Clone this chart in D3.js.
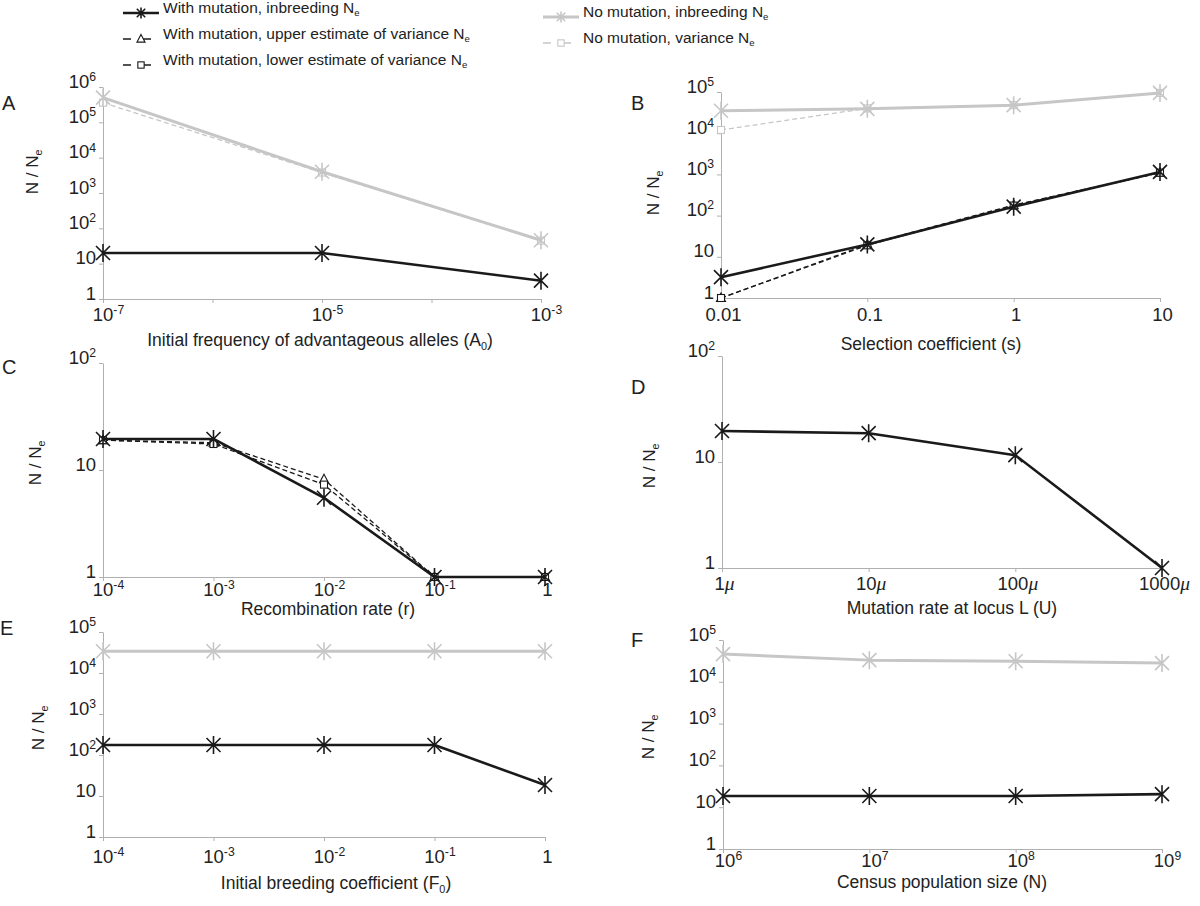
<!DOCTYPE html>
<html><head><meta charset="utf-8">
<script src="https://cdn.jsdelivr.net/npm/d3@7"></script>
<style>
body{margin:0;background:#fff}
svg{display:block}
text{font-family:"Liberation Sans",Arial,Helvetica,sans-serif;fill:#222}
</style>
</head><body>
<svg id="chart" width="1200" height="906"></svg>
<script>
// ---------------- DATA ----------------
// Panel A: initial frequency of advantageous alleles
const xA = [1e-7, 1e-5, 1e-3];
const aNoMutInb = [5e5, 4000, 46];
const aNoMutVar = [3.6e5, 3800, 45];
const aMutInb = [20, 20, 3.3];
const xTicksA = [1e-7, 1e-6, 1e-5, 1e-4, 1e-3];
const xTickLabelsA = ["10^{-7}", "", "10^{-5}", "", "10^{-3}"];

// Panel B: selection coefficient
const xB = [0.01, 0.1, 1, 10];
const bNoMutInb = [35000, 39000, 48000, 95000];
const bNoMutVar = [12000, 40000, 48000, 95000];
const bMutInb = [3.2, 20, 165, 1150];
const bMutUpper = [1, 20, 180, 1100];
const bMutLower = [1, 19, 175, 1100];
const xTickLabelsB = ["0.01", "0.1", "1", "10"];

// Panel C: recombination rate
const xC = [1e-4, 1e-3, 1e-2, 1e-1, 1];
const cMutInb = [19.5, 19.5, 5.5, 1, 1];
const cMutUpper = [19, 18, 8.2, 1, 1];
const cMutLower = [19, 17.5, 7.3, 1, 1];
const xTickLabelsC = ["10^{-4}", "10^{-3}", "10^{-2}", "10^{-1}", "1"];

// Panel D: mutation rate at locus L (multiples of mu)
const xD = [1, 10, 100, 1000];
const dMutInb = [19.6, 18.7, 11.6, 1];
const xTickLabelsD = ["1*{μ}", "10*{μ}", "100*{μ}", "1000*{μ}"];

// Panel E: initial breeding coefficient
const xE = [1e-4, 1e-3, 1e-2, 1e-1, 1];
const eNoMutInb = [34000, 34000, 34000, 34000, 34000];
const eMutInb = [175, 175, 175, 175, 18.5];
const xTickLabelsE = ["10^{-4}", "10^{-3}", "10^{-2}", "10^{-1}", "1"];

// Panel F: census population size
const xF = [1e6, 1e7, 1e8, 1e9];
const fNoMutInb = [46000, 33000, 31000, 28000];
const fMutInb = [18.5, 18.5, 18.5, 20.5];
const xTickLabelsF = ["10^{6}", "10^{7}", "10^{8}", "10^{9}"];

// y ticks
const yTicks6 = [1, 10, 1e2, 1e3, 1e4, 1e5, 1e6];
const yTickLabels6 = ["1", "10", "10^{2}", "10^{3}", "10^{4}", "10^{5}", "10^{6}"];
const yTicks5 = [1, 10, 1e2, 1e3, 1e4, 1e5];
const yTickLabels5 = ["1", "10", "10^{2}", "10^{3}", "10^{4}", "10^{5}"];
const yTicks2 = [1, 10, 1e2];
const yTickLabels2 = ["1", "10", "10^{2}"];

const legendLabels = [
  "With mutation, inbreeding N_{e}",
  "With mutation, upper estimate of variance N_{e}",
  "With mutation, lower estimate of variance N_{e}",
  "No mutation, inbreeding N_{e}",
  "No mutation, variance N_{e}"
];
const yLabel = "N / N_{e}";

// ---------------- STYLE ----------------
const BLACK = "#1a1a1a", GRAY = "#c6c6c6", AXIS = "#b0b0b0";
const TICK_FS = 18.5;
const styles = {
  blackInb:   {stroke: BLACK, width: 2.6, dash: null, marker: "ast", mcolor: BLACK},
  blackUpper: {stroke: BLACK, width: 1.3, dash: "5,3", marker: "tri", mcolor: BLACK},
  blackLower: {stroke: BLACK, width: 1.3, dash: "5,3", marker: "sq", mcolor: BLACK},
  grayInb:    {stroke: GRAY, width: 3, dash: null, marker: "ast", mcolor: GRAY},
  grayVar:    {stroke: GRAY, width: 1.3, dash: "5,3", marker: "sq", mcolor: GRAY}
};

const svg = d3.select("#chart");

function rich(sel, s, base) {
  const parts = s.split(/(\^\{[^}]*\}|_\{[^}]*\}|\*\{[^}]*\})/).filter(p => p !== "");
  let shift = 0;
  parts.forEach(p => {
    const t = sel.append("tspan");
    if (p.startsWith("^{")) {
      const sh = -0.36 * base;
      t.attr("dy", sh - shift).attr("font-size", base * 0.66).text(p.slice(2, -1));
      shift = sh;
    } else if (p.startsWith("_{")) {
      const sh = 0.22 * base;
      t.attr("dy", sh - shift).attr("font-size", base * 0.62).text(p.slice(2, -1));
      shift = sh;
    } else if (p.startsWith("*{")) {
      t.attr("dy", -shift).attr("font-style", "italic")
        .attr("font-family", "'Liberation Serif','Times New Roman',serif")
        .attr("font-size", base * 1.05).text(p.slice(2, -1));
      shift = 0;
    } else {
      t.attr("dy", -shift).text(p);
      shift = 0;
    }
  });
}

function drawMarker(g, type, color, s) {
  s = s || 1;
  if (type === "ast") {
    g.append("path")
      .attr("d", `M${-7*s},${-7*s}L${7*s},${7*s}M${-7*s},${7*s}L${7*s},${-7*s}M0,${-9*s}L0,${9*s}`)
      .attr("stroke", color).attr("stroke-width", 1.6).attr("fill", "none");
  } else if (type === "tri") {
    g.append("path").attr("d", `M0,${-5*s}L${4.5*s},${3.5*s}L${-4.5*s},${3.5*s}Z`)
      .attr("stroke", color).attr("stroke-width", 1.1).attr("fill", "#fff");
  } else if (type === "sq") {
    g.append("rect").attr("x", -3.5*s).attr("y", -3.5*s).attr("width", 7*s).attr("height", 7*s)
      .attr("stroke", color).attr("stroke-width", 1.1).attr("fill", "#fff");
  }
}

function drawPanel(p) {
  const g = svg.append("g");
  const x = d3.scaleLog().domain(p.xDomain).range([p.x0, p.x1]);
  const y = d3.scaleLog().domain(p.yDomain).range([p.y0, p.y1]);

  // y axis
  const gy = g.append("g").attr("transform", `translate(${p.x0},0)`)
    .call(d3.axisLeft(y).tickValues(p.yTicks).tickSize(4).tickSizeOuter(0).tickFormat(() => ""));
  gy.select(".domain").attr("stroke", AXIS);
  gy.selectAll(".tick line").attr("stroke", AXIS);
  gy.selectAll(".tick text").remove();
  gy.selectAll(".tick").each(function (d, i) {
    const t = d3.select(this).append("text")
      .attr("x", -7).attr("y", 0).attr("dy", "0.36em")
      .attr("text-anchor", "end").attr("font-size", TICK_FS).attr("fill", "#222");
    rich(t, p.yTickLabels[i], TICK_FS);
  });

  // x axis
  const gx = g.append("g").attr("transform", `translate(0,${p.y0})`)
    .call(d3.axisBottom(x).tickValues(p.xTicks).tickSize(4).tickSizeOuter(0).tickFormat(() => ""));
  gx.select(".domain").attr("stroke", AXIS);
  gx.selectAll(".tick line").attr("stroke", AXIS);
  gx.selectAll(".tick text").remove();
  gx.selectAll(".tick").each(function (d, i) {
    const lab = p.xTickLabels[i];
    if (!lab) return;
    const sup = lab.indexOf("^") >= 0;
    const t = d3.select(this).append("text")
      .attr("x", sup ? 5 : 2).attr("y", p.tickDy).attr("dy", "0.36em")
      .attr("text-anchor", "middle").attr("font-size", TICK_FS).attr("fill", "#222");
    rich(t, lab, TICK_FS);
  });

  // series
  const line = d3.line().x(d => x(d[0])).y(d => y(d[1]));
  p.series.forEach(s => {
    const st = styles[s.style];
    const pts = s.x.map((v, i) => [v, s.y[i]]);
    g.append("path").attr("d", line(pts)).attr("fill", "none")
      .attr("stroke", st.stroke).attr("stroke-width", st.width)
      .attr("stroke-dasharray", st.dash).attr("stroke-linejoin", "round");
    pts.forEach(d => {
      const m = g.append("g").attr("transform", `translate(${x(d[0])},${y(d[1])})`);
      drawMarker(m, st.marker, st.mcolor, 1);
    });
  });

  // axis title
  const tt = g.append("text").attr("x", p.title[0]).attr("y", p.title[1]).attr("dy", "0.36em")
    .attr("text-anchor", "middle").attr("font-size", 17.5);
  rich(tt, p.titleText, 17.5);

  // y label
  const yl = g.append("text").attr("transform", `translate(${p.ylab[0]},${p.ylab[1]}) rotate(-90)`)
    .attr("dy", "0.36em").attr("text-anchor", "middle").attr("font-size", 17);
  rich(yl, yLabel, 17);

  // panel letter
  g.append("text").attr("x", p.letter[0]).attr("y", p.letter[1]).attr("dy", "0.35em")
    .attr("font-family", "'Liberation Serif','Times New Roman',serif").attr("font-size", 20)
    .attr("fill", "#111").text(p.letterText);
}

const panels = [
  {letterText: "A", letter: [2, 103], x0: 103, x1: 541, y0: 299, y1: 87,
   xDomain: [1e-7, 1e-3], yDomain: [1, 1e6], xTicks: xTicksA, xTickLabels: xTickLabelsA,
   yTicks: yTicks6, yTickLabels: yTickLabels6, tickDy: 22, title: [320, 346],
   titleText: "Initial frequency of advantageous alleles (A_{0})", ylab: [38, 172],
   series: [
     {x: xA, y: aNoMutVar, style: "grayVar"},
     {x: xA, y: aNoMutInb, style: "grayInb"},
     {x: xA, y: aMutInb, style: "blackInb"}]},
  {letterText: "B", letter: [631, 103], x0: 721, x1: 1160, y0: 298, y1: 92,
   xDomain: [0.01, 10], yDomain: [1, 1e5], xTicks: xB, xTickLabels: xTickLabelsB,
   yTicks: yTicks5, yTickLabels: yTickLabels5, tickDy: 23, title: [931, 350],
   titleText: "Selection coefficient (s)", ylab: [659, 193],
   series: [
     {x: xB, y: bNoMutVar, style: "grayVar"},
     {x: xB, y: bNoMutInb, style: "grayInb"},
     {x: xB, y: bMutUpper, style: "blackUpper"},
     {x: xB, y: bMutLower, style: "blackLower"},
     {x: xB, y: bMutInb, style: "blackInb"}]},
  {letterText: "C", letter: [2, 367], x0: 103, x1: 545, y0: 577, y1: 363,
   xDomain: [1e-4, 1], yDomain: [1, 100], xTicks: xC, xTickLabels: xTickLabelsC,
   yTicks: yTicks2, yTickLabels: yTickLabels2, tickDy: 19, title: [328, 615],
   titleText: "Recombination rate (r)", ylab: [41, 463],
   series: [
     {x: xC, y: cMutUpper, style: "blackUpper"},
     {x: xC, y: cMutLower, style: "blackLower"},
     {x: xC, y: cMutInb, style: "blackInb"}]},
  {letterText: "D", letter: [631, 387], x0: 722, x1: 1162, y0: 568, y1: 356,
   xDomain: [1, 1000], yDomain: [1, 100], xTicks: xD, xTickLabels: xTickLabelsD,
   yTicks: yTicks2, yTickLabels: yTickLabels2, tickDy: 22, title: [952, 614],
   titleText: "Mutation rate at locus L (U)", ylab: [655, 466],
   series: [
     {x: xD, y: dMutInb, style: "blackInb"}]},
  {letterText: "E", letter: [0, 628], x0: 103, x1: 545, y0: 837, y1: 632,
   xDomain: [1e-4, 1], yDomain: [1, 1e5], xTicks: xE, xTickLabels: xTickLabelsE,
   yTicks: yTicks5, yTickLabels: yTickLabels5, tickDy: 26, title: [336, 889],
   titleText: "Initial breeding coefficient (F_{0})", ylab: [44, 728],
   series: [
     {x: xE, y: eNoMutInb, style: "grayInb"},
     {x: xE, y: eMutInb, style: "blackInb"}]},
  {letterText: "F", letter: [631, 640], x0: 723, x1: 1162, y0: 849, y1: 640,
   xDomain: [1e6, 1e9], yDomain: [1, 1e5], xTicks: xF, xTickLabels: xTickLabelsF,
   yTicks: yTicks5, yTickLabels: yTickLabels5, tickDy: 18, title: [942, 888],
   titleText: "Census population size (N)", ylab: [654, 737],
   series: [
     {x: xF, y: fNoMutInb, style: "grayInb"},
     {x: xF, y: fMutInb, style: "blackInb"}]}
];
panels.forEach(drawPanel);

// ---------------- LEGEND ----------------
const legendItems = [
  {style: "blackInb", x: 123, y: 13, label: legendLabels[0]},
  {style: "blackUpper", x: 123, y: 39, label: legendLabels[1]},
  {style: "blackLower", x: 123, y: 65, label: legendLabels[2]},
  {style: "grayInb", x: 543, y: 17, label: legendLabels[3]},
  {style: "grayVar", x: 543, y: 43, label: legendLabels[4]}
];
const lg = svg.append("g");
legendItems.forEach(it => {
  const st = styles[it.style];
  const g = lg.append("g").attr("transform", `translate(${it.x},${it.y})`);
  g.append("line").attr("x1", 0).attr("x2", 36).attr("y1", 0).attr("y2", 0)
    .attr("stroke", st.stroke).attr("stroke-width", st.width).attr("stroke-dasharray", st.dash ? "8,12" : null);
  const m = g.append("g").attr("transform", "translate(18,0)");
  drawMarker(m, st.marker, st.mcolor, st.marker === "ast" ? 0.6 : 0.9);
  const t = g.append("text").attr("x", 40).attr("y", 0).attr("dy", "0.36em").attr("font-size", 15.5);
  rich(t, it.label, 15.5);
});
</script>
</body></html>
